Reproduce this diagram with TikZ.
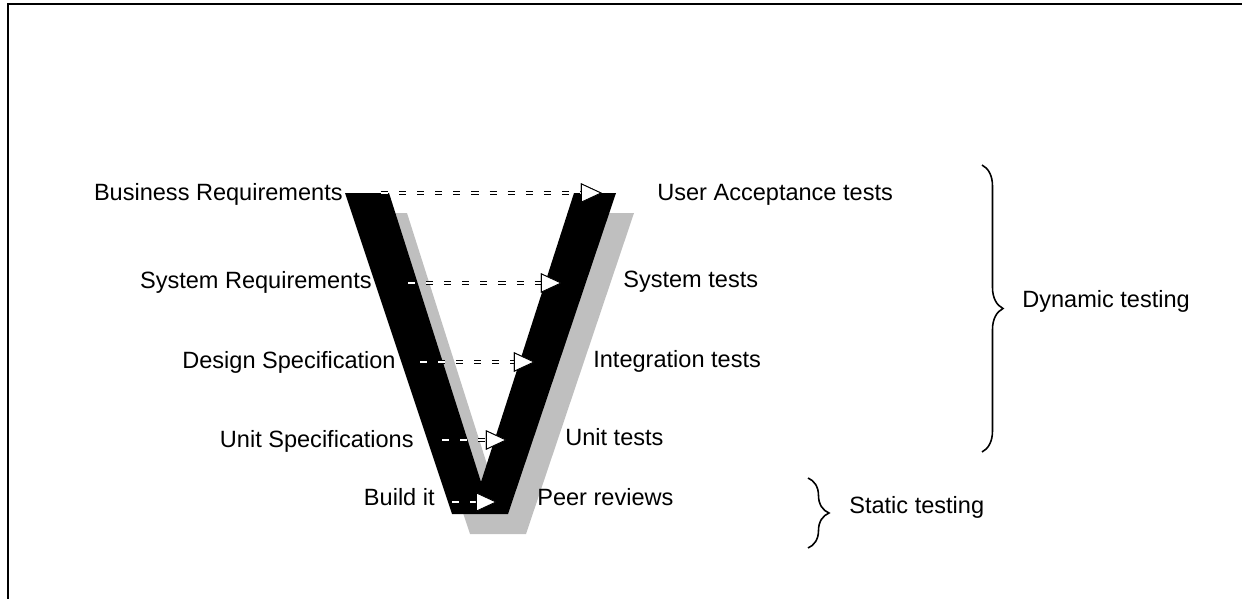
\documentclass[tikz,border=0pt]{standalone}
\usepackage{fontspec}
\setmainfont{Liberation Sans}
\usetikzlibrary{arrows.meta,decorations.pathreplacing}

\begin{document}
\begin{tikzpicture}[x=0.02cm, y=-0.02cm,
	every node/.style={font=\fontsize{13.4}{16}\selectfont, inner sep=0pt},
	lbl/.style={anchor=base east}, rlbl/.style={anchor=base west},
	flow/.style={draw=white, line width=1pt, dash pattern=on 4pt off 6.3pt,
		preaction={draw=black, line width=1.9pt, dash pattern=on 4pt off 6.3pt},
		-{Triangle[length=12pt, width=11pt, color=black, fill=white, line width=0.5pt]}},
	brc/.style={draw=black, line width=0.9pt, decorate, decoration={brace, amplitude=0.42cm}}]
					\useasboundingbox (0,0) rectangle (1242,599);
					\draw[line width=1.2pt] (8,599) -- (8,4) -- (1242,4);
					
					% the V and its shadow
					\fill[black!25] (363,213) -- (407,213) -- (499,502) -- (592,213) -- (634,213) -- (526,534) -- (470,534) -- cycle;
					\fill[black] (345,193) -- (389,193) -- (481,482) -- (574,193) -- (616,193) -- (508,514) -- (452,514) -- cycle;
					
					\node[lbl] (br) at (343,200){Business Requirements};
					\node[lbl] (sr) at (372,288){System Requirements};
					\node[lbl] (ds) at (396,368){Design Specification};
					\node[lbl] (us) at (414,447){Unit Specifications};
					\node[lbl] (bi) at (435,505){Build it};
					
					\node[rlbl] (ua) at (657,200){User Acceptance tests};
					\node[rlbl] (st) at (623,287){System tests};
					\node[rlbl] (it) at (593,367){Integration tests};
					\node[rlbl] (ut) at (565,445){Unit tests};
					\node[rlbl] (pr) at (537,505){Peer reviews};
					
					\coordinate (br1) at (381,193); \coordinate (ua1) at (602,193);
					\coordinate (sr1) at (408,283); \coordinate (st1) at (562,283);
					\coordinate (ds1) at (420,362); \coordinate (it1) at (535,362);
					\coordinate (us1) at (442,440); \coordinate (ut1) at (507,440);
					\coordinate (bi1) at (452,502); \coordinate (pr1) at (497,502);
					
					\draw[flow] (br1) -- (ua1);
					\draw[flow] (sr1) -- (st1);
					\draw[flow] (ds1) -- (it1);
					\draw[flow] (us1) -- (ut1);
					\draw[flow] (bi1) -- (pr1);
					
					\coordinate (d1) at (982,165); \coordinate (d2) at (982,452);
					\coordinate (s1) at (808,478); \coordinate (s2) at (808,548);
					\path[brc] (d1) -- (d2);
					\path[brc] (s1) -- (s2);
					\node[rlbl] (dyn) at (1022,307){Dynamic testing};
					\node[rlbl] (sta) at (849,513){Static testing};
					\end{tikzpicture}
\end{document}
